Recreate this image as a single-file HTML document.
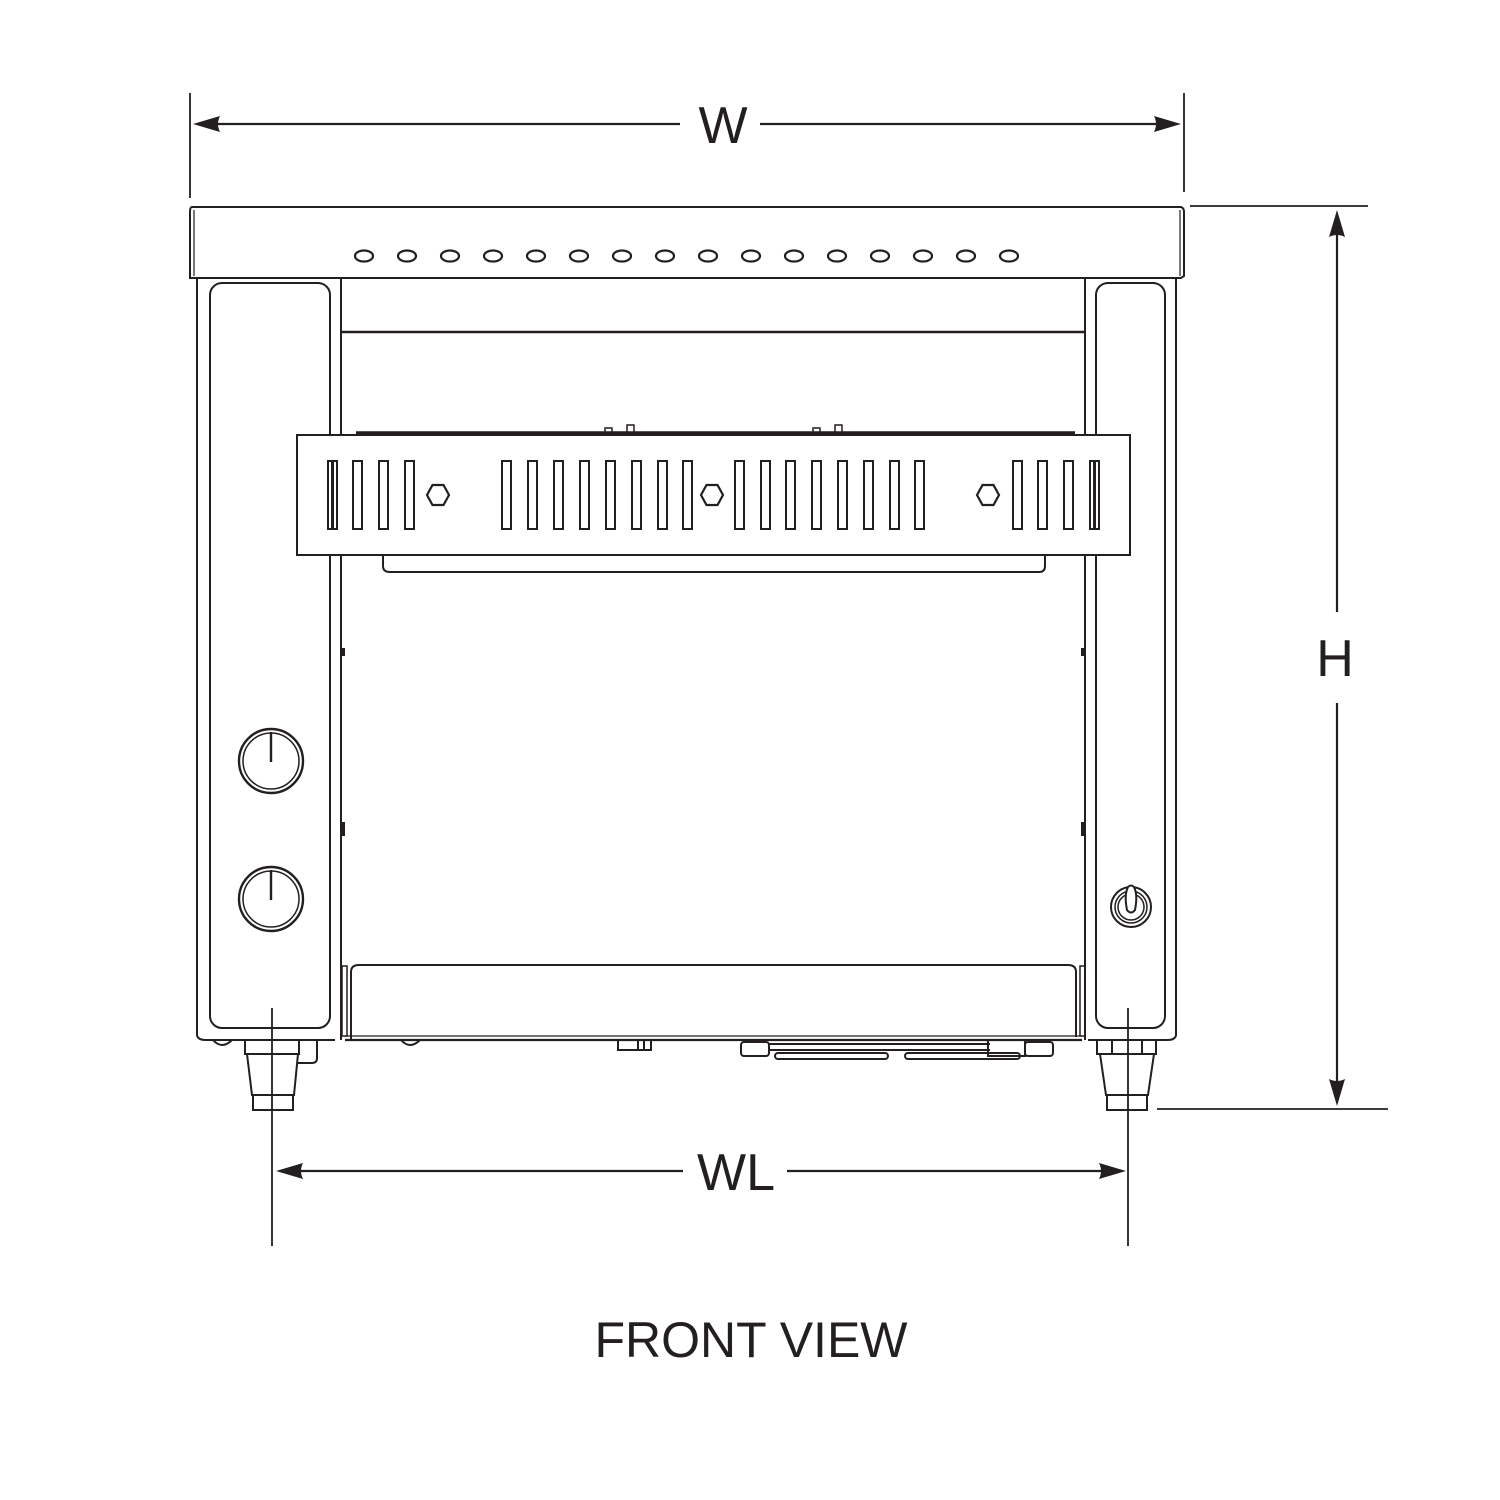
<!DOCTYPE html>
<html><head><meta charset="utf-8"><style>
html,body{margin:0;padding:0;background:#fff;}
svg{display:block;}
text{font-family:"Liberation Sans",sans-serif;fill:#231f20;}
</style></head><body>
<svg width="1500" height="1500" viewBox="0 0 1500 1500" xmlns="http://www.w3.org/2000/svg">
<g stroke="#231f20" fill="none" stroke-width="2.2">
<!-- dimension W -->
<line x1="190" y1="93" x2="190" y2="198" stroke-width="1.8"/>
<line x1="1184" y1="93" x2="1184" y2="192" stroke-width="1.8"/>
<line x1="215" y1="124" x2="680" y2="124"/>
<line x1="760" y1="124" x2="1158" y2="124"/>
<!-- H -->
<line x1="1190" y1="206" x2="1368" y2="206" stroke-width="1.8"/>
<line x1="1157" y1="1109" x2="1388" y2="1109" stroke-width="1.8"/>
<line x1="1337" y1="235" x2="1337" y2="612"/>
<line x1="1337" y1="703" x2="1337" y2="1082"/>
<!-- WL -->
<line x1="272" y1="1008" x2="272" y2="1246" stroke-width="1.8"/>
<line x1="1128" y1="1008" x2="1128" y2="1246" stroke-width="1.8"/>
<line x1="300" y1="1171" x2="683" y2="1171"/>
<line x1="787" y1="1171" x2="1102" y2="1171"/>
</g>
<g fill="#231f20">
<path d="M193,124 L220,116 Q216,124 220,132 Z"/>
<path d="M1181,124 L1154,116 Q1158,124 1154,132 Z"/>
<path d="M1337,210 L1329,237 Q1337,233 1345,237 Z"/>
<path d="M1337,1106 L1329,1079 Q1337,1083 1345,1079 Z"/>
<path d="M276,1171 L303,1163 Q299,1171 303,1179 Z"/>
<path d="M1126,1171 L1099,1163 Q1103,1171 1099,1179 Z"/>
</g>
<text x="723" y="143" font-size="52" text-anchor="middle">W</text>
<text x="1335" y="676" font-size="52" text-anchor="middle">H</text>
<text x="736" y="1190" font-size="52" text-anchor="middle">WL</text>
<text x="751" y="1357" font-size="50" text-anchor="middle">FRONT VIEW</text>

<g stroke="#231f20" fill="none" stroke-width="2">
<!-- top band -->
<path d="M192,207 L1181,207 Q1184,208 1184,212 L1184,276 L1181,278 L190,278 L190,212 Q190,207 192,207 Z"/>
<line x1="194" y1="210" x2="194" y2="276" stroke-width="1.2"/>
<line x1="1180" y1="210" x2="1180" y2="276" stroke-width="1.2"/>
<!-- holes -->
<g stroke-width="2.2">
<ellipse cx="364" cy="256" rx="9" ry="5.5"/><ellipse cx="407" cy="256" rx="9" ry="5.5"/>
<ellipse cx="450" cy="256" rx="9" ry="5.5"/><ellipse cx="493" cy="256" rx="9" ry="5.5"/>
<ellipse cx="536" cy="256" rx="9" ry="5.5"/><ellipse cx="579" cy="256" rx="9" ry="5.5"/>
<ellipse cx="622" cy="256" rx="9" ry="5.5"/><ellipse cx="665" cy="256" rx="9" ry="5.5"/>
<ellipse cx="708" cy="256" rx="9" ry="5.5"/><ellipse cx="751" cy="256" rx="9" ry="5.5"/>
<ellipse cx="794" cy="256" rx="9" ry="5.5"/><ellipse cx="837" cy="256" rx="9" ry="5.5"/>
<ellipse cx="880" cy="256" rx="9" ry="5.5"/><ellipse cx="923" cy="256" rx="9" ry="5.5"/>
<ellipse cx="966" cy="256" rx="9" ry="5.5"/><ellipse cx="1009" cy="256" rx="9" ry="5.5"/>
</g>
<!-- left pillar -->
<line x1="197" y1="278" x2="197" y2="1036"/>
<line x1="341" y1="278" x2="341" y2="1040"/>
<rect x="210" y="283" width="120" height="745" rx="12"/>
<path d="M197,1036 Q199,1040 205,1040 L335,1040"/>
<!-- right pillar -->
<line x1="1085" y1="278" x2="1085" y2="1040"/>
<line x1="1176" y1="278" x2="1176" y2="1036"/>
<rect x="1096" y="283" width="69" height="745" rx="12"/>
<path d="M1176,1036 Q1174,1040 1168,1040 L1088,1040"/>
<!-- crossbar -->
<line x1="341" y1="332" x2="1085" y2="332" stroke-width="2.4"/>
<!-- vent panel top edge -->
<line x1="356" y1="433" x2="1075" y2="433" stroke-width="3.5"/>
<rect x="605" y="428" width="7" height="6" stroke-width="1.5"/>
<rect x="627" y="425" width="7" height="9" stroke-width="1.5"/>
<rect x="813" y="428" width="7" height="6" stroke-width="1.5"/>
<rect x="835" y="425" width="7" height="9" stroke-width="1.5"/>
<rect x="297" y="435" width="833" height="120" fill="#fff"/>
<path d="M383,555 L383,566 Q383,572 390,572 L1039,572 Q1045,572 1045,566 L1045,555"/>
<!-- slots -->
<g stroke-width="2">
<rect x="328" y="461" width="9" height="68"/><line x1="332.5" y1="462" x2="332.5" y2="528" stroke-width="3"/>
<rect x="353" y="461" width="9" height="68"/><rect x="379" y="461" width="9" height="68"/><rect x="405" y="461" width="9" height="68"/>
<rect x="502" y="461" width="9" height="68"/><rect x="528" y="461" width="9" height="68"/><rect x="554" y="461" width="9" height="68"/>
<rect x="580" y="461" width="9" height="68"/><rect x="606" y="461" width="9" height="68"/><rect x="632" y="461" width="9" height="68"/>
<rect x="658" y="461" width="9" height="68"/><rect x="683" y="461" width="9" height="68"/>
<rect x="735" y="461" width="9" height="68"/><rect x="761" y="461" width="9" height="68"/><rect x="786" y="461" width="9" height="68"/>
<rect x="812" y="461" width="9" height="68"/><rect x="838" y="461" width="9" height="68"/><rect x="864" y="461" width="9" height="68"/>
<rect x="890" y="461" width="9" height="68"/><rect x="915" y="461" width="9" height="68"/>
<rect x="1013" y="461" width="9" height="68"/><rect x="1038" y="461" width="9" height="68"/><rect x="1064" y="461" width="9" height="68"/>
<rect x="1090" y="461" width="9" height="68"/><line x1="1094.5" y1="462" x2="1094.5" y2="528" stroke-width="3"/>
</g>
<g stroke-width="2.2">
<polygon points="427,495 432.5,485 443.5,485 449,495 443.5,505 432.5,505"/>
<polygon points="701,495 706.5,485 717.5,485 723,495 717.5,505 706.5,505"/>
<polygon points="977,495 982.5,485 993.5,485 999,495 993.5,505 982.5,505"/>
</g>
<!-- knobs -->
<circle cx="271" cy="761" r="32" stroke-width="2.4"/><circle cx="271" cy="761" r="28" stroke-width="1.5"/>
<line x1="271" y1="732" x2="271" y2="762" stroke-width="2.4"/>
<circle cx="271" cy="899" r="32" stroke-width="2.4"/><circle cx="271" cy="899" r="28" stroke-width="1.5"/>
<line x1="271" y1="870" x2="271" y2="900" stroke-width="2.4"/>
<!-- switch -->
<circle cx="1131" cy="907" r="20" stroke-width="2"/><circle cx="1131" cy="907" r="16" stroke-width="1.5"/><circle cx="1131" cy="907" r="13" stroke-width="1.5"/>
<path d="M1127,910 Q1124,895 1128,887 Q1131,884 1134,887 Q1138,895 1135,910 Q1131,915 1127,910 Z" fill="#fff" stroke-width="2"/>
<!-- small side tabs -->
<rect x="341" y="648" width="4" height="8" fill="#231f20" stroke="none"/>
<rect x="341" y="822" width="4" height="14" fill="#231f20" stroke="none"/>
<rect x="1081" y="648" width="4" height="8" fill="#231f20" stroke="none"/>
<rect x="1081" y="822" width="4" height="14" fill="#231f20" stroke="none"/>
<!-- crumb tray -->
<path d="M351,1040 L351,972 Q351,965 359,965 L1068,965 Q1076,965 1076,972 L1076,1037"/>
<line x1="345" y1="1040" x2="1082" y2="1040" stroke-width="2.2"/>
<line x1="345" y1="1036" x2="1082" y2="1036" stroke-width="1.2"/>
<rect x="342" y="966" width="5" height="70" stroke-width="1.5"/>
<rect x="1080" y="966" width="5" height="70" stroke-width="1.5"/>
<!-- bottom details -->
<path d="M213,1040 Q222,1050 232,1040"/>
<path d="M401,1040 Q410,1050 420,1040"/>
<rect x="618" y="1040" width="33" height="10"/>
<line x1="638" y1="1040" x2="638" y2="1050"/><line x1="644" y1="1040" x2="644" y2="1050"/>
<rect x="741" y="1042" width="28" height="14" rx="3"/>
<rect x="1025" y="1042" width="28" height="14" rx="3"/>
<line x1="769" y1="1044" x2="990" y2="1044"/>
<line x1="769" y1="1050" x2="990" y2="1050"/>
<rect x="775" y="1053" width="113" height="6" rx="3"/>
<rect x="905" y="1053" width="115" height="6" rx="3"/>
<rect x="988" y="1040" width="37" height="16"/>
<!-- left foot -->
<path d="M317,1040 L317,1058 Q317,1063 312,1063 L298,1063"/>
<rect x="245" y="1040" width="54" height="14"/>
<path d="M247,1054 L252,1095 L294,1095 L298,1054"/>
<rect x="253" y="1095" width="40" height="15"/>
<!-- right foot -->
<rect x="1097" y="1040" width="59" height="14"/>
<line x1="1112" y1="1040" x2="1112" y2="1054"/><line x1="1142" y1="1040" x2="1142" y2="1054"/>
<path d="M1100,1054 L1106,1095 L1148,1095 L1154,1054"/>
<rect x="1107" y="1095" width="40" height="15"/>
</g>
</svg>
</body></html>
